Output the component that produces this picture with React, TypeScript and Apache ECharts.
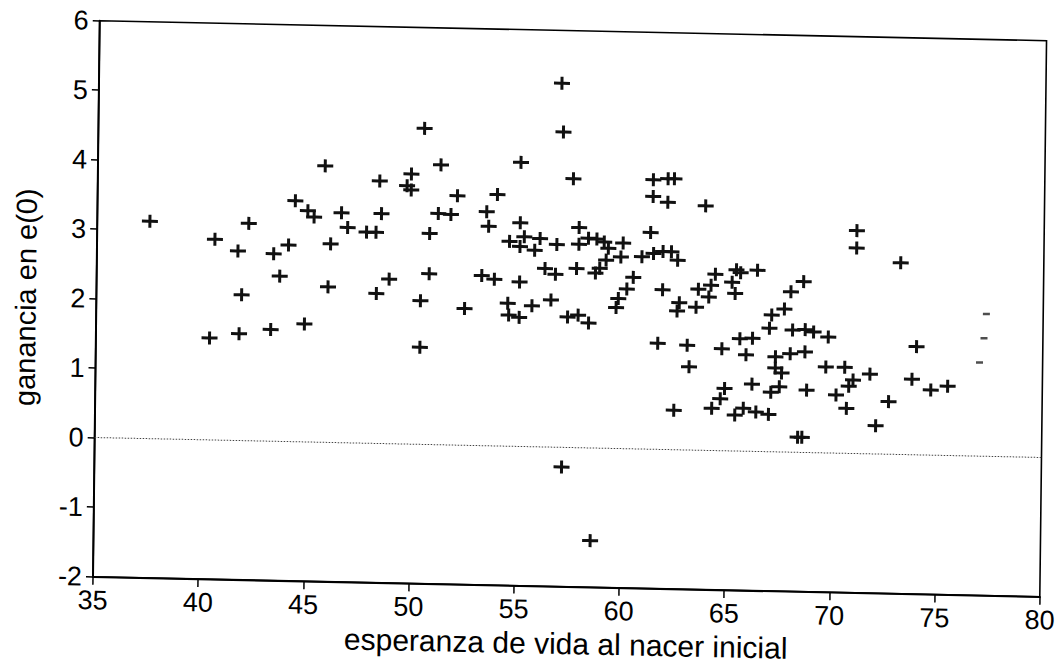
import React, { useEffect, useRef } from "react";
import * as echarts from "echarts";

// esperanza de vida al nacer inicial (x) and ganancia en e(0) (y)
const esperanzaInicial: number[] = [
  37.5, 40.6, 41.7, 42.2, 43.4, 44.1, 43.7, 41.9, 44.4, 45.0, 45.3, 45.8, 46.1, 46.0, 40.4, 41.8, 43.3, 44.9,
  50.5, 51.3, 55.1, 49.9, 49.7, 49.9, 48.4, 52.1, 54.0, 46.6, 48.5, 51.2, 51.8, 53.5, 53.6, 46.9, 47.8, 48.25,
  50.8, 55.1, 54.6, 55.3, 55.1, 50.8, 48.9, 48.3, 50.4, 53.3, 53.9, 52.5, 55.1, 54.55, 54.6, 55.1, 50.4,
  57.6, 61.4, 62.1, 62.4, 61.4, 62.1, 57.9, 61.3, 56.05, 55.8, 56.85, 57.9, 58.35, 58.75, 59.1, 60.0, 59.3,
  59.2, 58.9, 58.7, 59.9, 60.9, 61.45, 61.9, 62.3, 62.6, 60.5, 60.2, 59.8, 59.7, 61.9, 56.3, 56.8, 57.8, 56.6,
  55.7, 57.4, 57.9, 58.4, 61.7, 63.1, 57.0, 57.1, 63.9,
  64.4, 65.4, 65.6, 66.4, 63.6, 64.2, 64.1, 65.2, 65.35, 62.7, 62.6, 63.5, 68.6, 68.0, 67.7, 67.1, 67.0, 68.1,
  68.7, 69.1, 69.8, 64.75, 63.2, 65.6, 66.2, 65.9, 67.3, 68.0, 68.7, 67.3, 67.6, 66.2, 67.5, 67.1, 68.8, 64.9,
  64.7, 64.3, 62.5, 65.8, 65.4, 66.4, 67.0, 68.4, 68.6,
  71.1, 71.1, 73.2, 74.0, 69.7, 70.6, 71.8, 71.0, 70.8, 70.2, 73.8, 74.7, 75.5, 70.7, 72.7, 72.1,
  57.2, 58.6,
];

const gananciaE0: number[] = [
  3.13, 2.89, 2.73, 3.13, 2.70, 2.83, 2.38, 2.10, 3.47, 3.33, 3.24, 3.98, 2.86, 2.24, 1.47, 1.54, 1.61, 1.70,
  4.55, 4.03, 4.09, 3.89, 3.72, 3.66, 3.78, 3.59, 3.62, 3.31, 3.31, 3.33, 3.32, 3.37, 3.16, 3.10, 3.04, 3.04,
  3.04, 3.22, 2.95, 3.02, 2.88, 2.46, 2.37, 2.16, 2.07, 2.45, 2.40, 1.97, 2.37, 2.06, 1.89, 1.86, 1.40,
  3.87, 3.88, 3.90, 3.90, 3.64, 3.56, 3.17, 3.12, 3.00, 2.83, 2.92, 2.93, 3.02, 3.01, 2.97, 2.96, 2.88,
  2.71, 2.59, 2.52, 2.76, 2.77, 2.82, 2.85, 2.85, 2.73, 2.47, 2.30, 2.16, 2.03, 2.30, 2.57, 2.49, 2.58, 2.12,
  2.03, 1.88, 1.91, 1.80, 1.53, 1.51, 5.24, 4.54, 3.52,
  2.54, 2.61, 2.57, 2.61, 2.32, 2.38, 2.21, 2.43, 2.27, 2.12, 2.00, 2.06, 2.46, 2.31, 2.06, 1.97, 1.78, 1.76,
  1.77, 1.74, 1.67, 1.47, 1.20, 1.62, 1.63, 1.39, 1.37, 1.42, 1.45, 1.21, 1.14, 0.97, 0.94, 0.86, 0.90, 0.90,
  0.75, 0.61, 0.57, 0.62, 0.52, 0.57, 0.54, 0.22, 0.22,
  3.21, 2.96, 2.76, 1.56, 1.24, 1.24, 1.15, 1.06, 0.97, 0.84, 1.09, 0.94, 1.00, 0.65, 0.76, 0.41,
  -0.28, -1.33,
];

// faint partial marks near the right edge of the scan
const marcasX: number[] = [77.3, 77.2, 77.0];
const marcasY: number[] = [2.05, 1.7, 1.35];

const xTicks: number[] = [35, 40, 45, 50, 55, 60, 65, 70, 75, 80];
const yTicks: number[] = [-2, -1, 0, 1, 2, 3, 4, 5, 6];

const PLUS = "path://M6.5,0H9.5V5H16V8H9.5V13H6.5V8H0V5H6.5Z";

export default function App() {
  const ref = useRef<HTMLDivElement>(null);

  useEffect(() => {
    if (!ref.current) return;
    const chart = echarts.init(ref.current, undefined, { renderer: "svg" });
    const n = Math.min(esperanzaInicial.length, gananciaE0.length);
    const puntos = [] as number[][];
    for (let i = 0; i < n; i++) puntos.push([esperanzaInicial[i], gananciaE0[i]]);
    const marcas = marcasX.map((x, i) => [x, marcasY[i]]);

    const font = "'Liberation Sans', Arial, Helvetica, sans-serif";

    chart.setOption({
      animation: false,
      backgroundColor: "#ffffff",
      grid: {
        left: 93,
        right: 20.2,
        top: 20.7,
        bottom: 88.3,
        show: true,
        borderColor: "#000",
        borderWidth: 1.6,
        backgroundColor: "transparent",
      },
      xAxis: {
        type: "value",
        min: xTicks[0],
        max: xTicks[xTicks.length - 1],
        interval: 5,
        name: "esperanza de vida al nacer inicial",
        nameLocation: "middle",
        nameGap: 39,
        nameTextStyle: { color: "#000", fontSize: 30, fontFamily: font },
        axisLine: { show: true, onZero: false, lineStyle: { color: "#000", width: 2 } },
        axisTick: { show: true, inside: false, length: 8, lineStyle: { color: "#000", width: 1.5 } },
        axisLabel: { color: "#000", fontSize: 27, fontFamily: font, margin: 10 },
        splitLine: { show: false },
      },
      yAxis: {
        type: "value",
        min: yTicks[0],
        max: yTicks[yTicks.length - 1],
        interval: 1,
        name: "ganancia en e(0)",
        nameLocation: "middle",
        nameGap: 56,
        nameRotate: 90,
        nameTextStyle: { color: "#000", fontSize: 29, fontFamily: font },
        axisLine: { show: true, onZero: false, lineStyle: { color: "#000", width: 2 } },
        axisTick: { show: true, inside: false, length: 7, lineStyle: { color: "#000", width: 1.5 } },
        axisLabel: { color: "#000", fontSize: 27, fontFamily: font, margin: 11 },
        splitLine: { show: false },
      },
      series: [
        {
          type: "scatter",
          name: "ganancia",
          data: puntos,
          symbol: PLUS,
          symbolSize: [16, 13],
          itemStyle: { color: "#111", opacity: 1 },
          silent: true,
          markLine: {
            silent: true,
            symbol: "none",
            label: { show: false },
            lineStyle: { color: "#444", width: 1, type: [1.5, 1.5] },
            data: [{ yAxis: 0 }],
          },
        },
        {
          type: "scatter",
          name: "marcas",
          data: marcas,
          symbol: "rect",
          symbolSize: [7, 2.5],
          itemStyle: { color: "#222" },
          silent: true,
        },
      ],
    });
    return () => chart.dispose();
  }, []);

  return (
    <div
      style={{
        position: "fixed",
        left: 0,
        top: 0,
        width: 1060,
        height: 665,
        background: "#fff",
        overflow: "hidden",
      }}
    >
      <div
        ref={ref}
        style={{
          position: "absolute",
          left: 0,
          top: 0,
          width: 1060,
          height: 665,
          transformOrigin: "93px 576.7px",
          transform: "matrix(1, 0.0211, -0.0121, 1, 0, 0)",
        }}
      />
    </div>
  );
}
